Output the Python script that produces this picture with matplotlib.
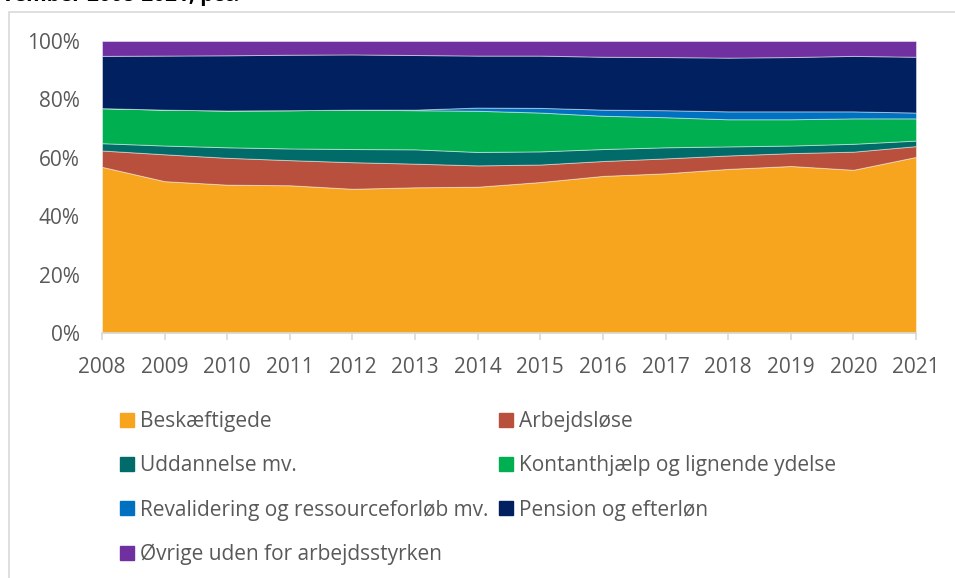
import matplotlib.pyplot as plt
import matplotlib.patches as mpatches
import numpy as np

plt.rcParams['font.family'] = ['Open Sans', 'DejaVu Sans']

years = [2008, 2009, 2010, 2011, 2012, 2013, 2014, 2015, 2016, 2017, 2018, 2019, 2020, 2021]

beskaeftigede = [56.9, 52.0, 50.8, 50.6, 49.4, 49.9, 50.1, 51.7, 53.8, 54.7, 56.2, 57.2, 55.9, 60.3]
arbejdsloese = [5.6, 9.2, 9.2, 8.6, 9.1, 8.1, 7.3, 6.0, 5.1, 5.1, 4.6, 4.4, 6.2, 3.7]
uddannelse = [2.5, 3.0, 3.6, 4.0, 4.5, 4.9, 4.6, 4.5, 4.1, 3.8, 3.1, 2.6, 2.7, 1.9]
kontanthjaelp = [12.0, 12.3, 12.6, 13.1, 13.5, 13.4, 14.1, 13.3, 11.4, 10.3, 9.3, 9.0, 8.7, 7.6]
revalidering = [0.0, 0.0, 0.0, 0.0, 0.0, 0.2, 1.1, 1.6, 2.1, 2.4, 2.7, 2.7, 2.4, 2.0]
pension = [17.9, 18.5, 18.9, 19.0, 18.9, 18.7, 17.8, 17.9, 18.1, 18.2, 18.4, 18.6, 19.0, 19.1]
oevrige = [5.1, 5.0, 4.9, 4.7, 4.6, 4.8, 5.0, 5.0, 5.4, 5.5, 5.7, 5.5, 5.1, 5.4]

labels = ["Beskæftigede", "Arbejdsløse", "Uddannelse mv.", "Kontanthjælp og lignende ydelse",
          "Revalidering og ressourceforløb mv.", "Pension og efterløn", "Øvrige uden for arbejdsstyrken"]
colors = ["#F7A51E", "#B9503D", "#006B68", "#00AF4F", "#0070C0", "#002060", "#7030A0"]

series = [beskaeftigede, arbejdsloese, uddannelse, kontanthjaelp, revalidering, pension, oevrige]

fig = plt.figure(figsize=(9.55, 5.78), dpi=100)
W, H = 955, 578

# chart frame
fig.patches.append(mpatches.Rectangle((8.5 / W, -0.1), 1.2, 1.1 - 12 / H, transform=fig.transFigure,
                                      fill=False, edgecolor="#d9d9d9", linewidth=1.2))

# title is cut off at the top of the picture
fig.text(2 / W, 1 - 1.5 / H, "vember 2008-2021, pct.", fontsize=15, fontweight="bold",
         va="baseline", ha="left", color="black")

ax = fig.add_axes([102 / W, 1 - 333 / H, (916 - 102) / W, (333 - 41) / H])
ax.stackplot(years, *series, colors=colors, edgecolor=(1, 1, 1, 0.45), linewidth=0.7)

ax.set_xlim(2008, 2021)
ax.set_ylim(0, 100)
ax.set_xticks(years)
ax.set_yticks([0, 20, 40, 60, 80, 100])
ax.set_yticklabels([f"{v}%" for v in [0, 20, 40, 60, 80, 100]])
for s in ["top", "right", "left"]:
    ax.spines[s].set_visible(False)
ax.spines["bottom"].set_color("#d9d9d9")
ax.spines["bottom"].set_linewidth(1.2)
ax.tick_params(axis="x", colors="#d9d9d9", length=5, width=1.2, labelcolor="#595959",
               labelsize=15, pad=12)
ax.tick_params(axis="y", length=0, labelcolor="#595959", labelsize=15, pad=16)

handles = [mpatches.Patch(color=c) for c in colors]
order = [0, 2, 4, 6, 1, 3, 5]
fig.legend([handles[i] for i in order], [labels[i] for i in order], ncol=2,
           loc="upper left", bbox_to_anchor=(120 / W, 1 - 411 / H), frameon=False,
           fontsize=15, labelcolor="#595959", borderpad=0, borderaxespad=0,
           handlelength=0.67, handleheight=0.67, handletextpad=0.3,
           labelspacing=1.12, columnspacing=0.5)

fig.savefig("out.png", dpi=100)
